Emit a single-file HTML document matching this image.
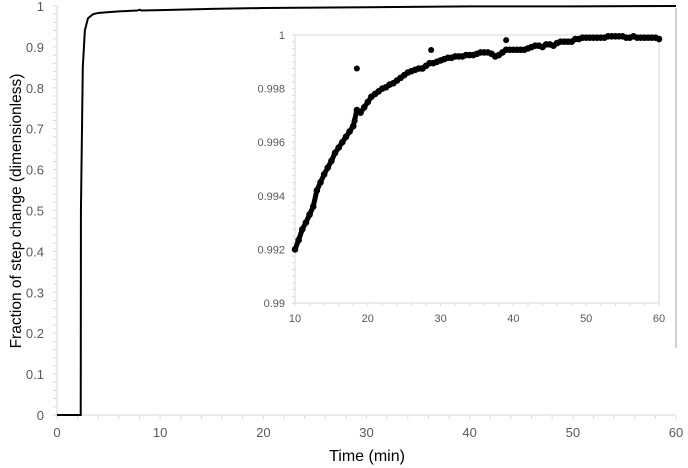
<!DOCTYPE html>
<html><head><meta charset="utf-8"><style>
body{margin:0;background:#fff}
svg{display:block;font-family:"Liberation Sans",sans-serif}
</style></head><body>
<svg id="chart" width="688" height="468">
<g id="main"></g>
<line x1="676" y1="8" x2="676" y2="348" stroke="#d0d0d0" stroke-width="2"/>
<g id="inset"></g>
<text x="367" y="461" font-size="16" text-anchor="middle" fill="#000">Time (min)</text>
<text transform="translate(21,211) rotate(-90)" font-size="15.5" text-anchor="middle" fill="#000">Fraction of step change (dimensionless)</text>
</svg>
<script>
const mainTimes=[0,2.3,2.32,2.5,2.7,3,3.5,4,5,6,7,7.8,8,8.2,10,15,20,30,40,50,60];
const mainValues=[0,0,0.5,0.85,0.94,0.97,0.98,0.983,0.985,0.987,0.988,0.989,0.991,0.989,0.99,0.993,0.995,0.997,0.999,0.999,1];
const mainXTicks=[0,10,20,30,40,50,60];
const mainYTicks=[0,0.1,0.2,0.3,0.4,0.5,0.6,0.7,0.8,0.9,1];
const insetStart=10, insetStep=0.5;
const insetValues=[.99200,.99235,.99275,.99300,.99330,.99360,.99420,.99450,.99480,.99505,.99530,.99560,.99580,.99600,.99620,.99640,.99660,.99720,.99710,.99730,.99750,.99770,.99780,.99790,.99800,.99805,.99815,.99820,.99830,.99840,.99850,.99860,.99865,.99870,.99875,.99875,.99885,.99895,.99895,.99900,.99905,.99910,.99915,.99915,.99920,.99920,.99920,.99925,.99925,.99925,.99930,.99935,.99935,.99935,.99930,.99920,.99925,.99935,.99945,.99945,.99945,.99945,.99945,.99945,.99950,.99955,.99960,.99960,.99955,.99965,.99965,.99960,.99970,.99975,.99975,.99975,.99975,.99985,.99985,.99990,.99990,.99990,.99990,.99990,.99990,.99990,.99995,.99995,.99995,.99995,.99995,.99990,.99990,.99995,.99990,.99990,.99990,.99990,.99990,.99990,.99985];
const outlierTimes=[18.2,18.5,28.7,39];
const outlierValues=[0.99680,0.99875,0.99944,0.99981];
const insetXTicks=[10,20,30,40,50,60];
const insetYTicks=[0.99,0.992,0.994,0.996,0.998,1];
const insetYLabels=["0.99","0.992","0.994","0.996","0.998","1"];

const NS="http://www.w3.org/2000/svg";
function mk(p,tag,at){const e=document.createElementNS(NS,tag);for(const k in at)e.setAttribute(k,at[k]);p.appendChild(e);return e;}
const mx=v=>57+(v-0)/60*(676-57), my=v=>415-v*(415-6);
const M=document.getElementById('main');
for(let v=0;v<=1.0001;v+=0.02){const t=mk(M,'line',{x1:53,x2:57,y1:my(v),y2:my(v),stroke:'#d9d9d9'});

}
for(let v=0;v<=60;v+=2){const t=mk(M,'line',{x1:mx(v),x2:mx(v),y1:415,y2:419,stroke:'#d9d9d9'});

}
let a=mk(M,'line',{x1:57,x2:57,y1:6,y2:415,stroke:'#d9d9d9'});


a=mk(M,'line',{x1:57,x2:676,y1:415,y2:415,stroke:'#d9d9d9'});


mainYTicks.forEach(v=>{const t=mk(M,'text',{x:44,y:my(v)+5,'font-size':13,'text-anchor':'end',fill:'#595959'});t.textContent=String(+v.toFixed(1));

});
mainXTicks.forEach(v=>{const t=mk(M,'text',{x:mx(v),y:437,'font-size':13,'text-anchor':'middle',fill:'#595959'});t.textContent=v;

});
const ml=mk(M,'polyline',{points:mainTimes.map((t,i)=>mx(t)+','+my(mainValues[i])).join(' '),fill:'none',stroke:'#000','stroke-width':2});


const ix=v=>295+(v-10)/50*(659-295), iy=v=>303-(v-0.99)/0.01*(303-35);
const I=document.getElementById('inset');
mk(I,'rect',{x:288,y:28,width:380,height:300,fill:'#fff'});
for(let k=0;k<=40;k++){const v=0.99+k*0.00025;const t=mk(I,'line',{x1:292,x2:295,y1:iy(v),y2:iy(v),stroke:'#d9d9d9'});

}
for(let v=10;v<=60;v+=2){const t=mk(I,'line',{x1:ix(v),x2:ix(v),y1:303,y2:306,stroke:'#d9d9d9'});

}
a=mk(I,'line',{x1:295,x2:295,y1:35,y2:303,stroke:'#d9d9d9'});


a=mk(I,'line',{x1:295,x2:659,y1:303,y2:303,stroke:'#d9d9d9'});


a=mk(I,'line',{x1:295,x2:659,y1:35,y2:35,stroke:'#d9d9d9'});


a=mk(I,'line',{x1:659,x2:659,y1:35,y2:303,stroke:'#d9d9d9'});


insetYTicks.forEach((v,i)=>{const t=mk(I,'text',{x:285,y:iy(v)+4,'font-size':11,'text-anchor':'end',fill:'#595959'});t.textContent=insetYLabels[i];

});
insetXTicks.forEach(v=>{const t=mk(I,'text',{x:ix(v),y:322,'font-size':11,'text-anchor':'middle',fill:'#595959'});t.textContent=v;

});
const band=mk(I,'polyline',{points:insetValues.map((v,i)=>ix(insetStart+i*insetStep)+','+iy(v)).join(' '),fill:'none',stroke:'#000','stroke-width':5,'stroke-linejoin':'round'});


insetValues.forEach((v,i)=>{const c=mk(I,'circle',{cx:ix(insetStart+i*insetStep),cy:iy(v),r:3.3,fill:'#000'});

});
outlierTimes.forEach((t,i)=>{const c=mk(I,'circle',{cx:ix(t),cy:iy(outlierValues[i]),r:3,fill:'#000'});

});
</script>
</body></html>
